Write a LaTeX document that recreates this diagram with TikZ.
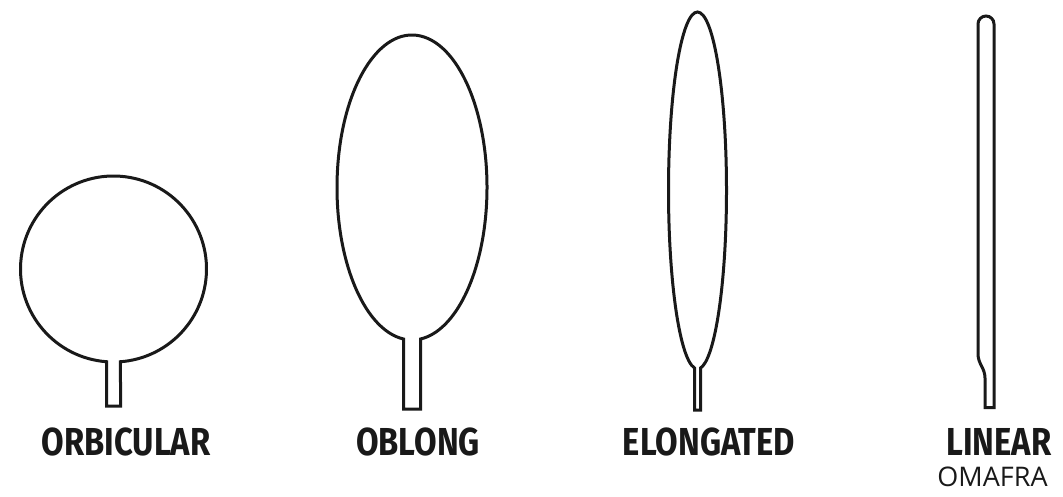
\documentclass[tikz,border=0pt]{standalone}
\usepackage{fontspec}
\newfontfamily\ktagfont[FakeStretch=0.84]{Fira Sans}
\newfontfamily\ksrcfont{Open Sans}
% leaf blade as an ellipse with a straight stem below it
% #1,#2 centre, #3,#4 radii, #5 half width of stem, #6 stem bottom
\newcommand{\kleaf}[6]{%
\pgfmathsetmacro{\kphi}{acos(#5/#3)}%
\draw[leaf](#1-#5,#6)--([shift={(180+\kphi:#3 and #4)}]#1,#2)arc[start angle=180+\kphi,end angle=-\kphi,x radius=#3,y radius=#4]--(#1+#5,#6)--cycle;}
\begin{document}
\begin{tikzpicture}[x=1pt,y=1pt,
  leaf/.style={draw=black!90,line width=3pt},
  tag/.style={anchor=base,inner sep=0pt,font=\ktagfont\bfseries\fontsize{39}{40}\selectfont,text=black!90},
  src/.style={anchor=base,inner sep=0pt,font=\ksrcfont\fontsize{27}{28}\selectfont,text=black!90}]
\useasboundingbox(0,0)rectangle(1063,496);
\kleaf{113.5}{227}{93}{93}{7}{90}
\kleaf{412}{308.5}{75}{152.5}{8.5}{87}
\kleaf{697.5}{305.5}{29}{178.5}{3}{86}
% linear leaf, drawn by hand because of the notch above the stem
\draw[leaf](985,88.5)--(985,118)..controls(985,128)and(978,132)..(978,142)--(978,472)arc[start angle=180,end angle=0,radius=8]--(994,88.5)--cycle;
\foreach \kx/\ka in {126/ORBICULAR,418/OBLONG,709/ELONGATED,999/LINEAR}{\node[tag](t\ka)at(\kx,40.5){\ka};}
\node[src](tsrc)at(992.5,10){OMAFRA};
\end{tikzpicture}
\end{document}
